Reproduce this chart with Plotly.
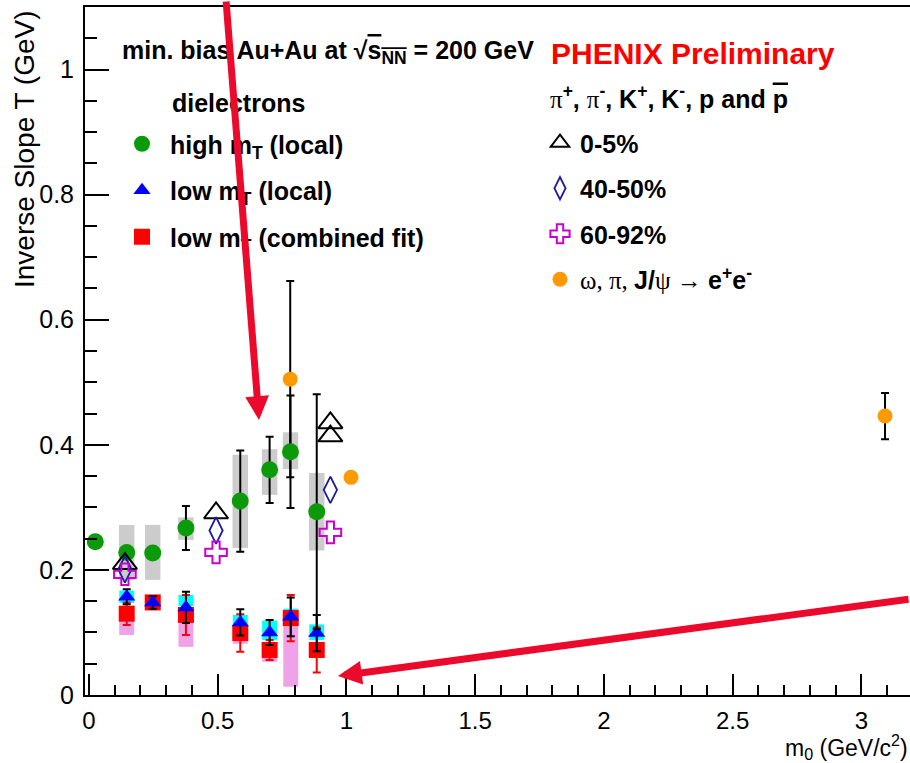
import plotly.graph_objects as go

# ---------------- data ----------------
# dielectrons, high m_T (local fit)
hi_x = [0.025, 0.147, 0.248, 0.377, 0.588, 0.702, 0.783, 0.885]
hi_y = [0.245, 0.228, 0.227, 0.267, 0.310, 0.360, 0.389, 0.293]
hi_err = [0.006, 0.006, 0.006, 0.035, 0.081, 0.053, 0.090, 0.188]
hi_sys_lo = [None, 0.184, 0.184, 0.248, 0.235, 0.320, 0.361, 0.231]
hi_sys_hi = [None, 0.272, 0.272, 0.284, 0.384, 0.393, 0.420, 0.355]

# dielectrons, low m_T
lo_x = [0.147, 0.248, 0.377, 0.588, 0.702, 0.784, 0.885]
lo_loc_y = [0.157, 0.148, 0.140, 0.116, 0.100, 0.125, 0.099]
lo_loc_err = [0.012, 0.010, 0.025, 0.021, 0.020, 0.031, 0.029]
lo_loc_sys_lo = [0.147, 0.142, 0.142, 0.105, 0.088, 0.112, 0.088]
lo_loc_sys_hi = [0.167, 0.154, 0.160, 0.128, 0.119, 0.138, 0.113]

lo_fit_y = [0.130, 0.148, 0.128, 0.099, 0.072, 0.123, 0.072]
lo_fit_err = [0.018, 0.008, 0.032, 0.030, 0.016, 0.037, 0.036]
lo_fit_sys_lo = [0.096, 0.140, 0.077, 0.082, 0.053, 0.013, 0.060]
lo_fit_sys_hi = [0.140, 0.156, 0.130, 0.110, 0.080, 0.120, 0.080]

# identified hadrons (pi, K, p)
c0_5_x = [0.140, 0.494, 0.938, 0.938]
c0_5_y = [0.210, 0.291, 0.435, 0.414]
c40_50_x = [0.140, 0.494, 0.938]
c40_50_y = [0.201, 0.263, 0.328]
c60_92_x = [0.140, 0.494, 0.938]
c60_92_y = [0.193, 0.228, 0.260]

# omega, phi, J/psi -> e+e-
vm_x = [0.782, 1.018, 3.092]
vm_y = [0.505, 0.348, 0.446]
vm_err = [0.157, 0.0, 0.037]

x_ticks = [0, 0.5, 1, 1.5, 2, 2.5, 3]
y_ticks = [0, 0.2, 0.4, 0.6, 0.8, 1.0]

# ---------------- layout geometry ----------------
W, H = 910, 763
L, R, T, B = 85, 0, 7, 68
FONT = "Liberation Sans, Arial, Helvetica, sans-serif"
SERIF = "Liberation Serif, Times New Roman, serif"


def paper(px, py):
    return (px - L) / (W - L - R), (H - B - py) / (H - T - B)


def heights(lo, hi):
    return [None if (a is None or b is None) else b - a for a, b in zip(lo, hi)]


fig = go.Figure()

# systematic boxes
fig.add_trace(go.Bar(x=hi_x, base=hi_sys_lo, y=heights(hi_sys_lo, hi_sys_hi), width=0.06,
                     marker=dict(color="#cccccc", line=dict(width=0)), showlegend=False,
                     hoverinfo="skip"))
fig.add_trace(go.Bar(x=lo_x, base=lo_fit_sys_lo, y=heights(lo_fit_sys_lo, lo_fit_sys_hi), width=0.058,
                     marker=dict(color="#f0a2e8", line=dict(width=0)), showlegend=False,
                     hoverinfo="skip"))
fig.add_trace(go.Bar(x=lo_x, base=lo_loc_sys_lo, y=heights(lo_loc_sys_lo, lo_loc_sys_hi), width=0.058,
                     marker=dict(color="#00ffff", line=dict(width=0)), showlegend=False,
                     hoverinfo="skip"))

# low m_T combined fit (red squares)
fig.add_trace(go.Scatter(x=lo_x, y=lo_fit_y, mode="markers", name="low m<sub>T</sub> (combined fit)",
                         marker=dict(symbol="square", size=16, color="#ff0000"),
                         error_y=dict(type="data", array=lo_fit_err, color="#ff0000", thickness=2, width=4),
                         legend="legend", legendgroup="g3", legendrank=3))
# low m_T local (blue triangles)
fig.add_trace(go.Scatter(x=lo_x, y=lo_loc_y, mode="markers", name="low m<sub>T</sub> (local)",
                         marker=dict(symbol="triangle-up", size=15, color="#0000ff"),
                         error_y=dict(type="data", array=lo_loc_err, color="black", thickness=2, width=4),
                         legend="legend", legendgroup="g2", legendrank=2))
# vector mesons (orange)
fig.add_trace(go.Scatter(x=vm_x, y=vm_y, mode="markers",
                         name=("<span style='font-family:" + SERIF + ";font-weight:normal'>ω, π, </span>J/"
                               "<span style='font-family:" + SERIF + ";font-weight:normal'>ψ → </span>"
                               "e<sup>+</sup>e<sup>-</sup>"),
                         marker=dict(symbol="circle", size=15, color="#ff9900"),
                         error_y=dict(type="data", array=vm_err, color="black", thickness=2, width=4),
                         legend="legend2", legendgroup="h4", legendrank=4))
# high m_T (green)
fig.add_trace(go.Scatter(x=hi_x, y=hi_y, mode="markers", name="high m<sub>T</sub> (local)",
                         marker=dict(symbol="circle", size=17, color="#0a9a0a"),
                         error_y=dict(type="data", array=hi_err, color="black", thickness=2, width=4),
                         legend="legend", legendgroup="g1", legendrank=1))
# hadrons
fig.add_trace(go.Scatter(x=c0_5_x, y=c0_5_y, mode="markers", name="0-5%",
                         marker=dict(symbol="triangle-up-open", size=21, color="black", line=dict(width=2)),
                         legend="legend2", legendgroup="h1", legendrank=1))
fig.add_trace(go.Scatter(x=c40_50_x, y=c40_50_y, mode="markers", name="40-50%",
                         marker=dict(symbol="diamond-tall-open", size=19, color="#1a1aa0", line=dict(width=1.8)),
                         legend="legend2", legendgroup="h2", legendrank=2))
fig.add_trace(go.Scatter(x=c60_92_x, y=c60_92_y, mode="markers", name="60-92%",
                         marker=dict(symbol="cross-open", size=18, color="#cc00cc", line=dict(width=2)),
                         legend="legend2", legendgroup="h3", legendrank=3))

axis_common = dict(showgrid=False, zeroline=False, showline=True, linecolor="black", linewidth=2,
                   ticks="inside", tickcolor="black", tickwidth=2,
                   tickfont=dict(family=FONT, size=24, color="black"))

fig.update_layout(
    width=W, height=H,
    margin=dict(l=L, r=R, t=T, b=B, pad=0),
    paper_bgcolor="white", plot_bgcolor="white",
    barmode="overlay",
    xaxis=dict(range=[-0.015, 3.189], tickvals=x_ticks, ticktext=[f"{v:g}" for v in x_ticks],
               ticklen=21, mirror=True, ticklabelstandoff=3,
               minor=dict(dtick=0.1, tick0=0, ticks="inside", ticklen=10, tickwidth=2, tickcolor="black"),
               **axis_common),
    yaxis=dict(range=[0, 1.1], tickvals=y_ticks, ticktext=[f"{v:g}" for v in y_ticks],
               ticklen=24, mirror=False, ticklabelstandoff=4,
               minor=dict(dtick=0.05, tick0=0, ticks="inside", ticklen=12, tickwidth=2, tickcolor="black"),
               **axis_common),
    legend=dict(x=paper(114, 121)[0], y=paper(114, 121)[1], xanchor="left", yanchor="top",
                bgcolor="rgba(0,0,0,0)", borderwidth=0, itemwidth=46, traceorder="grouped",
                tracegroupgap=11, font=dict(family=FONT, size=25, color="black", weight="bold")),
    legend2=dict(x=paper(540, 120)[0], y=paper(540, 120)[1], xanchor="left", yanchor="top",
                 bgcolor="rgba(0,0,0,0)", borderwidth=0, itemwidth=30, traceorder="grouped",
                 tracegroupgap=10, font=dict(family=FONT, size=25, color="black", weight="bold")),
)
fig.update_yaxes(tickfont_size=25)


def ann(text, px, py, size=25, color="black", xanchor="left", yanchor="middle", weight="bold", angle=0,
        family=FONT):
    x, y = paper(px, py)
    fig.add_annotation(x=x, y=y, xref="paper", yref="paper", text=text, showarrow=False,
                       xanchor=xanchor, yanchor=yanchor, textangle=angle,
                       font=dict(family=family, size=size, color=color, weight=weight))


ann("min. bias Au+Au at √<span style='text-decoration:overline'>s<sub>NN</sub></span> = 200 GeV", 120, 52)
ann("dielectrons", 170, 103)
ann("PHENIX Preliminary", 549, 53, size=30, color="#ff0000")
ann("<span style='font-family:" + SERIF + ";font-weight:normal'>π</span><sup>+</sup>, "
    "<span style='font-family:" + SERIF + ";font-weight:normal'>π</span><sup>-</sup>, "
    "K<sup>+</sup>, K<sup>-</sup>, p and <span style='text-decoration:overline'>p</span>", 548, 97)
ann("Inverse Slope T (GeV)", 24, 8, size=28, weight="normal", xanchor="center", yanchor="top", angle=-90)
ann("m<sub>0</sub> (GeV/c<sup>2</sup>)", 910, 747, size=23, weight="normal", xanchor="right")

# red arrows drawn over the figure
ARROW = "#ec0a2c"
for tip, tail in [((259, 420), (226, -5)), ((338, 676), (915, 599))]:
    x, y = paper(*tip)
    fig.add_annotation(x=x, y=y, xref="paper", yref="paper", text="", showarrow=True,
                       ax=tail[0] - tip[0], ay=tail[1] - tip[1], arrowhead=2, arrowsize=0.68,
                       arrowwidth=7, arrowcolor=ARROW, standoff=0)

fig.write_html("out.html")
